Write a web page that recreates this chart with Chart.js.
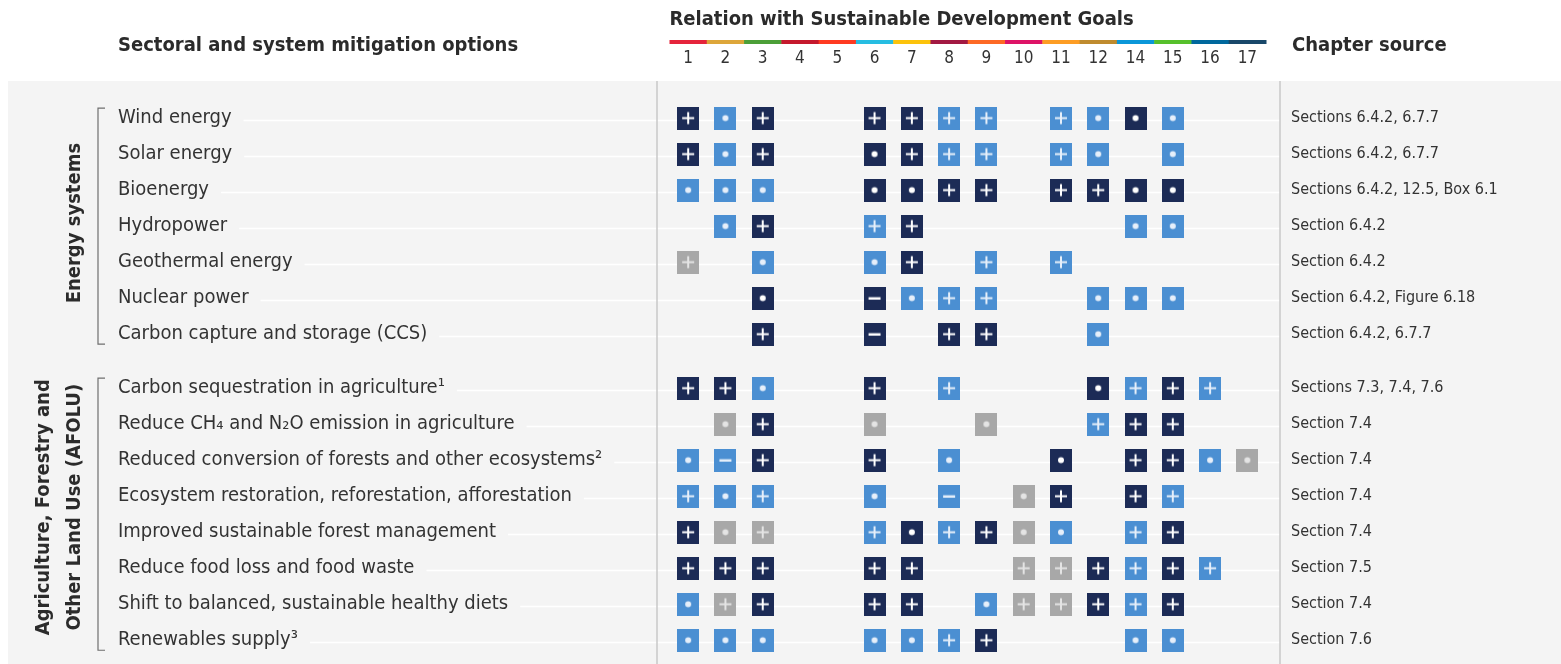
<!DOCTYPE html>
<html>
<head>
<meta charset="utf-8">
<script src="https://cdn.jsdelivr.net/npm/chart.js@4.4.1/dist/chart.umd.min.js"></script>
<style>
html, body { margin: 0; padding: 0; background: #fff; }
#sdg-chart { display: block; }
</style>
</head>
<body>
<canvas id="sdg-chart" width="1561" height="664"></canvas>
<script>
const sdgGoals = ['1', '2', '3', '4', '5', '6', '7', '8', '9', '10', '11', '12', '14', '15', '16', '17'];
const sdgColors = ['#e5243b', '#dda63a', '#4c9f38', '#c5192d', '#ff3a21', '#26bde2', '#fcc30b', '#a21942',
                   '#fd6925', '#dd1367', '#fd9d24', '#bf8b2e', '#0a97d9', '#56c02b', '#00689d', '#19486a'];

const groupNames = [['Energy systems'], ['Agriculture, Forestry and', 'Other Land Use (AFOLU)']];

const energyOptions = [
    'Wind energy', 'Solar energy', 'Bioenergy', 'Hydropower', 'Geothermal energy',
    'Nuclear power', 'Carbon capture and storage (CCS)'
];
const energySources = [
    'Sections 6.4.2, 6.7.7', 'Sections 6.4.2, 6.7.7', 'Sections 6.4.2, 12.5, Box 6.1', 'Section 6.4.2',
    'Section 6.4.2', 'Section 6.4.2, Figure 6.18', 'Section 6.4.2, 6.7.7'
];
const afoluOptions = [
    'Carbon sequestration in agriculture¹', 'Reduce CH₄ and N₂O emission in agriculture',
    'Reduced conversion of forests and other ecosystems²', 'Ecosystem restoration, reforestation, afforestation',
    'Improved sustainable forest management', 'Reduce food loss and food waste',
    'Shift to balanced, sustainable healthy diets', 'Renewables supply³'
];
const afoluSources = [
    'Sections 7.3, 7.4, 7.6', 'Section 7.4', 'Section 7.4', 'Section 7.4',
    'Section 7.4', 'Section 7.5', 'Section 7.4', 'Section 7.6'
];

// one token per goal: D = navy, L = light blue, G = grey; + / o / - = symbol; .. = empty
const energyRelations = [
    'D+ Lo D+ .. .. D+ D+ L+ L+ .. L+ Lo Do Lo .. ..',
    'D+ Lo D+ .. .. Do D+ L+ L+ .. L+ Lo .. Lo .. ..',
    'Lo Lo Lo .. .. Do Do D+ D+ .. D+ D+ Do Do .. ..',
    '.. Lo D+ .. .. L+ D+ .. .. .. .. .. Lo Lo .. ..',
    'G+ .. Lo .. .. Lo D+ .. L+ .. L+ .. .. .. .. ..',
    '.. .. Do .. .. D- Lo L+ L+ .. .. Lo Lo Lo .. ..',
    '.. .. D+ .. .. D- .. D+ D+ .. .. Lo .. .. .. ..'
];
const afoluRelations = [
    'D+ D+ Lo .. .. D+ .. L+ .. .. .. Do L+ D+ L+ ..',
    '.. Go D+ .. .. Go .. .. Go .. .. L+ D+ D+ .. ..',
    'Lo L- D+ .. .. D+ .. Lo .. .. Do .. D+ D+ Lo Go',
    'L+ Lo L+ .. .. Lo .. L- .. Go D+ .. D+ L+ .. ..',
    'D+ Go G+ .. .. L+ Do L+ D+ Go Lo .. L+ D+ .. ..',
    'D+ D+ D+ .. .. D+ D+ .. .. G+ G+ D+ L+ D+ L+ ..',
    'Lo G+ D+ .. .. D+ D+ .. Lo G+ G+ D+ L+ D+ .. ..',
    'Lo Lo Lo .. .. Lo Lo L+ D+ .. .. .. Lo Lo .. ..'
];

const FONT = "'Liberation Sans Narrow', 'DejaVu Sans Condensed', 'Roboto', sans-serif";
const TEXT_COLOR = '#333333';
const CELL_FILL = { D: '#1c2b56', L: '#4b8fd2', G: '#a8a8a8' };
const MARK_FILL = { D: '#ffffff', L: '#e6effa', G: '#e4e4e4' };

// rows: energy 0..6, then a gap, AFOLU rows
const rowLabels = energyOptions.concat(afoluOptions);
const rowSources = energySources.concat(afoluSources);
const rowRelations = energyRelations.concat(afoluRelations);
const rowPos = rowLabels.map(function(l, i) {
    return i < energyOptions.length ? i : i + 0.5;
});

function makeCell(code) {
    var c = document.createElement('canvas');
    c.width = 22;
    c.height = 23;
    var g = c.getContext('2d');
    g.fillStyle = CELL_FILL[code[0]];
    g.fillRect(0, 0, 22, 23);
    g.fillStyle = MARK_FILL[code[0]];
    if (code[1] === '+') {
        g.fillRect(5, 10.5, 12, 2);
        g.fillRect(10, 5.5, 2, 12);
    } else if (code[1] === 'o') {
        g.beginPath();
        g.arc(11, 11.5, 3, 0, Math.PI * 2);
        g.fill();
    } else if (code[1] === '-') {
        g.fillRect(5, 10.5, 12, 2.5);
    }
    return c;
}

var cellCodes = ['D+', 'Do', 'D-', 'L+', 'Lo', 'L-', 'G+', 'Go'];
var datasets = cellCodes.map(function(code) {
    var pts = [];
    rowRelations.forEach(function(row, r) {
        row.split(' ').forEach(function(tok, c) {
            if (tok === code) pts.push({ x: sdgGoals[c], y: rowPos[r] });
        });
    });
    return {
        label: code,
        data: pts,
        pointStyle: makeCell(code),
        pointRadius: 11,
        pointHoverRadius: 11
    };
});

function rowTicks(axis) {
    axis.ticks = rowPos.map(function(v) { return { value: v }; });
}

function fixedWidth(w) {
    return function(axis) {
        axis.width = w;
        axis.paddingTop = 0;
        axis.paddingBottom = 0;
    };
}

const layoutPlugin = {
    id: 'sdgLayout',
    beforeDraw: function(chart) {
        var ctx = chart.ctx;
        var area = chart.chartArea;
        ctx.save();
        ctx.fillStyle = '#ffffff';
        ctx.fillRect(0, 0, chart.width, chart.height);
        ctx.fillStyle = '#f4f4f4';
        ctx.fillRect(8, area.top, chart.width - 8, chart.height - area.top);

        // faint white row lines
        var y = chart.scales.y;
        ctx.font = '20px ' + FONT;
        ctx.strokeStyle = '#ffffff';
        ctx.lineWidth = 1.5;
        rowPos.forEach(function(v, i) {
            var py = Math.round(y.getPixelForValue(v)) + 2.5;
            var w = ctx.measureText(rowLabels[i]).width;
            ctx.beginPath();
            ctx.moveTo(y.left + w + 12, py);
            ctx.lineTo(area.right + 14, py);
            ctx.stroke();
        });

        // dividers
        ctx.strokeStyle = '#c8c8c8';
        ctx.lineWidth = 1.5;
        [area.left - 12.5, area.right + 14].forEach(function(x) {
            ctx.beginPath();
            ctx.moveTo(x, area.top);
            ctx.lineTo(x, chart.height);
            ctx.stroke();
        });
        ctx.restore();
    },
    afterDraw: function(chart) {
        var ctx = chart.ctx;
        var area = chart.chartArea;
        var x = chart.scales.x;
        var y = chart.scales.y;
        ctx.save();

        // header titles
        ctx.fillStyle = '#2b2b2b';
        ctx.textBaseline = 'middle';
        ctx.textAlign = 'left';
        ctx.font = 'bold 20px ' + FONT;
        ctx.fillText('Sectoral and system mitigation options', y.left, 46);
        ctx.fillText('Relation with Sustainable Development Goals', area.left, 20);
        ctx.fillText('Chapter source', area.right + 26, 46);

        // SDG colour bar
        var band = (area.right - area.left) / sdgGoals.length;
        sdgGoals.forEach(function(g, i) {
            var cx = x.getPixelForValue(i);
            ctx.fillStyle = sdgColors[i];
            ctx.fillRect(cx - band / 2, 40, band + 0.5, 4);
        });

        // group brackets and rotated names
        var groups = [[0, energyOptions.length - 1, -3], [energyOptions.length, rowPos.length - 1, -7]];
        ctx.strokeStyle = '#6e6e6e';
        ctx.lineWidth = 1.2;
        groups.forEach(function(gr, gi) {
            var top = y.getPixelForValue(rowPos[gr[0]]) - 10;
            var bot = y.getPixelForValue(rowPos[gr[1]]) + 10;
            var bx = 98;
            ctx.beginPath();
            ctx.moveTo(bx + 7, top);
            ctx.lineTo(bx, top);
            ctx.lineTo(bx, bot);
            ctx.lineTo(bx + 7, bot);
            ctx.stroke();

            var lines = groupNames[gi];
            var cy = (top + bot) / 2 + gr[2];
            ctx.save();
            ctx.translate(bx - 23, cy);
            ctx.rotate(-Math.PI / 2);
            ctx.fillStyle = '#2b2b2b';
            ctx.font = 'bold 20px ' + FONT;
            ctx.textAlign = 'center';
            ctx.textBaseline = 'middle';
            lines.forEach(function(t, li) {
                var off = (li - (lines.length - 1)) * 31;
                ctx.fillText(t, 0, off);
            });
            ctx.restore();
        });
        ctx.restore();
    }
};

new Chart(document.getElementById('sdg-chart'), {
    type: 'scatter',
    data: { labels: sdgGoals, datasets: datasets },
    plugins: [layoutPlugin],
    options: {
        responsive: false,
        animation: false,
        events: [],
        layout: { autoPadding: false, padding: { left: 118, right: 0, top: 0, bottom: 0 } },
        plugins: { legend: { display: false }, tooltip: { enabled: false } },
        scales: {
            x: {
                type: 'category',
                position: 'top',
                offset: true,
                grid: { display: false, drawTicks: false },
                border: { display: false },
                ticks: {
                    autoSkip: false,
                    maxRotation: 0,
                    padding: 12,
                    color: TEXT_COLOR,
                    font: { family: FONT, size: 17 }
                },
                afterFit: function(axis) {
                    axis.height = 81;
                    axis.paddingLeft = 0;
                    axis.paddingRight = 0;
                }
            },
            y: {
                type: 'linear',
                position: 'left',
                reverse: true,
                min: -1.03,
                max: 15.16,
                grid: { display: false, drawTicks: false },
                border: { display: false },
                afterBuildTicks: rowTicks,
                afterFit: fixedWidth(551.5),
                ticks: {
                    autoSkip: false,
                    crossAlign: 'far',
                    color: TEXT_COLOR,
                    font: { family: FONT, size: 20 },
                    callback: function(v, i) { return rowLabels[i]; }
                }
            },
            y2: {
                type: 'linear',
                position: 'right',
                reverse: true,
                min: -1.03,
                max: 15.16,
                grid: { display: false, drawTicks: true, tickLength: 22 },
                border: { display: false },
                afterBuildTicks: rowTicks,
                afterFit: fixedWidth(295),
                ticks: {
                    autoSkip: false,
                    crossAlign: 'near',
                    padding: 3,
                    color: TEXT_COLOR,
                    font: { family: FONT, size: 16 },
                    callback: function(v, i) { return rowSources[i]; }
                }
            }
        }
    }
});
</script>
</body>
</html>
